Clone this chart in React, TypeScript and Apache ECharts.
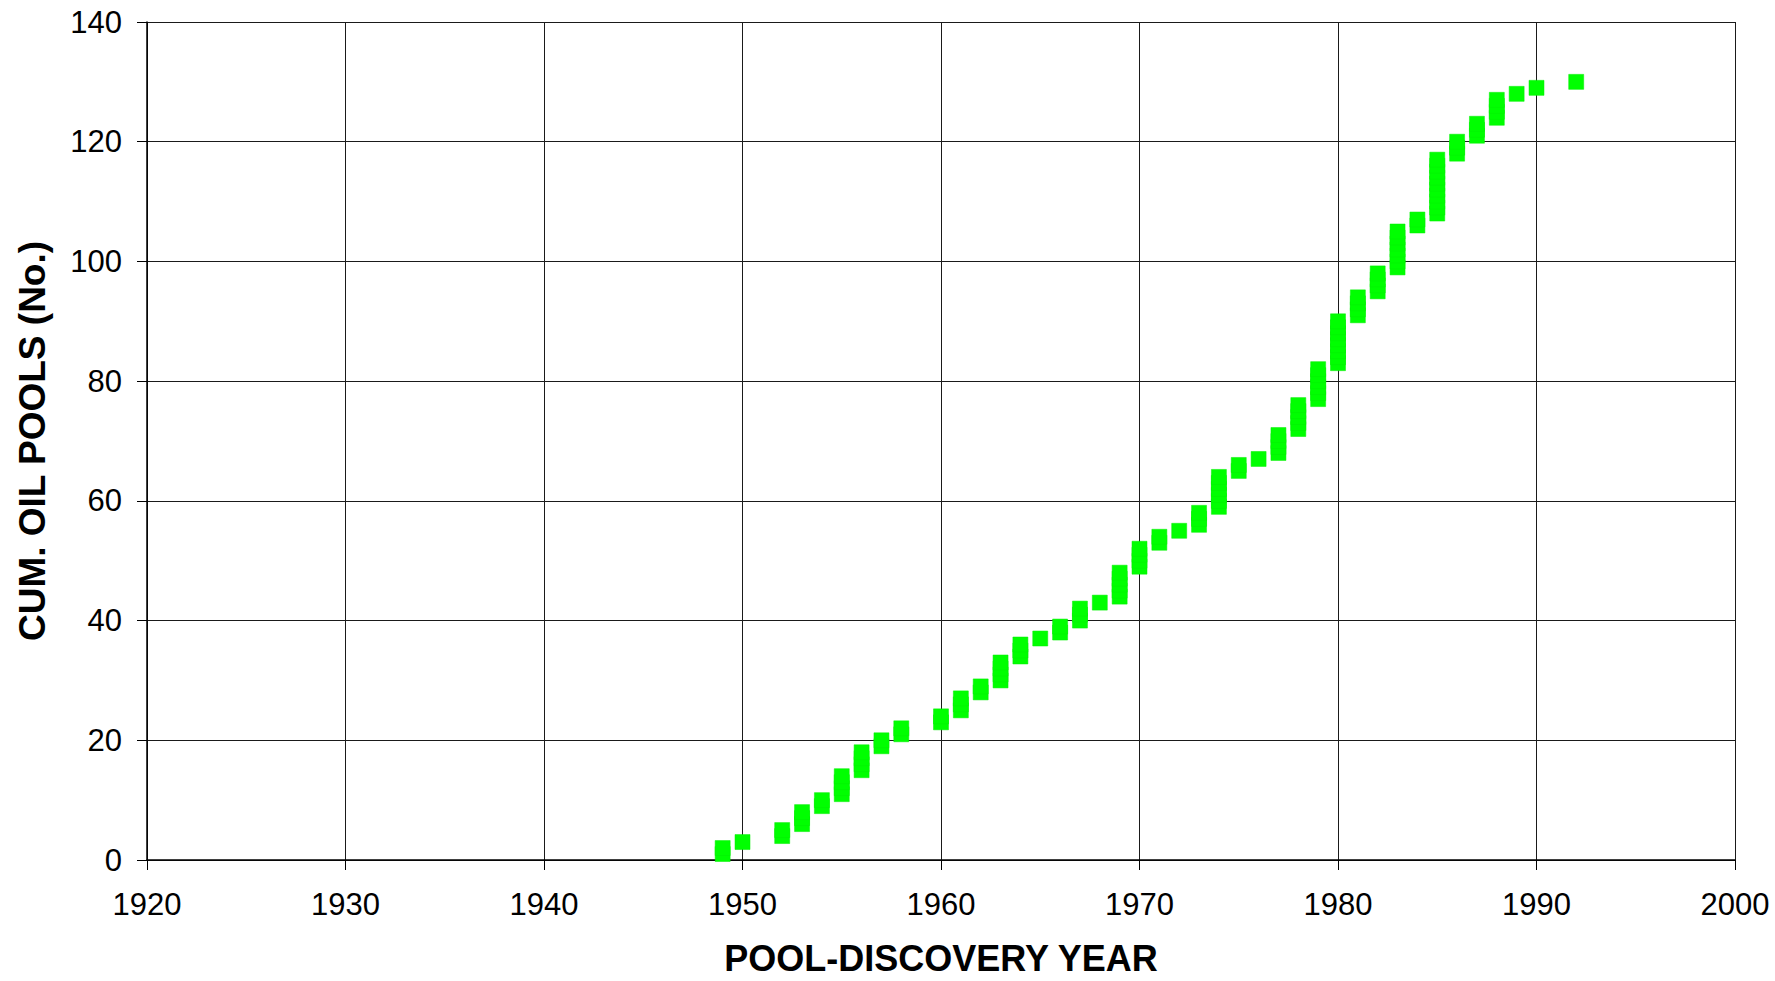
import React, { useEffect, useRef } from "react";
import * as echarts from "echarts";

// Discovery years (one stack of markers per year)
const discoveryYears = [
  1949, 1950, 1952, 1953, 1954, 1955, 1956, 1957, 1958, 1960,
  1961, 1962, 1963, 1964, 1965, 1966, 1967, 1968, 1969, 1970,
  1971, 1972, 1973, 1974, 1975, 1976, 1977, 1978, 1979, 1980,
  1981, 1982, 1983, 1984, 1985, 1986, 1987, 1988, 1989, 1990,
  1992,
];

// Cumulative number of oil pools at the end of each discovery year
const cumulativeTotals = [
  2, 3, 5, 8, 10, 14, 18, 20, 22, 24,
  27, 29, 33, 36, 37, 39, 42, 43, 48, 52,
  54, 55, 58, 64, 66, 67, 71, 76, 82, 90,
  94, 98, 105, 107, 117, 120, 123, 127, 128, 129,
  130,
];

const xTickYears = [1920, 1930, 1940, 1950, 1960, 1970, 1980, 1990, 2000];
const yTickValues = [0, 20, 40, 60, 80, 100, 120, 140];

const xTitle = "POOL-DISCOVERY YEAR";
const yTitle = "CUM. OIL POOLS (No.)";

const FONT = "'Liberation Sans', Arial, Helvetica, sans-serif";

export default function App() {
  const ref = useRef<HTMLDivElement>(null);

  useEffect(() => {
    if (!ref.current) return;
    const chart = echarts.init(ref.current, undefined, { renderer: "svg" });

    // one point per pool: each year's stack runs from previous total + 1 to this year's total
    const points: [number, number][] = [];
    let prev = 0;
    discoveryYears.forEach((yr, i) => {
      for (let n = prev + 1; n <= cumulativeTotals[i]; n++) points.push([yr, n]);
      prev = cumulativeTotals[i];
    });

    const xMin = xTickYears[0];
    const xMax = xTickYears[xTickYears.length - 1];
    const yMin = yTickValues[0];
    const yMax = yTickValues[yTickValues.length - 1];

    chart.setOption({
      animation: false,
      backgroundColor: "#ffffff",
      grid: {
        left: 147,
        right: 40,
        top: 22,
        bottom: 121,
        containLabel: false,
        outerBoundsMode: "none",
      },
      xAxis: {
        type: "value",
        min: xMin,
        max: xMax,
        interval: xTickYears[1] - xTickYears[0],
        name: xTitle,
        nameLocation: "middle",
        nameGap: 80,
        nameTextStyle: { fontFamily: FONT, fontSize: 36, fontWeight: "bold", color: "#000" },
        axisLine: { show: true, onZero: false, lineStyle: { color: "#000", width: 1.5 } },
        axisTick: { show: true, inside: false, length: 10, lineStyle: { color: "#000", width: 1 } },
        axisLabel: {
          fontFamily: FONT,
          fontSize: 31,
          color: "#000",
          margin: 29,
          formatter: (v: number) => String(v),
        },
        splitLine: { show: true, lineStyle: { color: "#1a1a1a", width: 1 } },
      },
      yAxis: {
        type: "value",
        min: yMin,
        max: yMax,
        interval: yTickValues[1] - yTickValues[0],
        name: yTitle,
        nameLocation: "middle",
        nameGap: 96,
        nameTextStyle: { fontFamily: FONT, fontSize: 37, fontWeight: "bold", color: "#000" },
        axisLine: { show: true, onZero: false, lineStyle: { color: "#000", width: 1.5 } },
        axisTick: { show: true, inside: false, length: 10, lineStyle: { color: "#000", width: 1 } },
        axisLabel: {
          fontFamily: FONT,
          fontSize: 31,
          color: "#000",
          margin: 25,
          formatter: (v: number) => String(v),
        },
        splitLine: { show: true, lineStyle: { color: "#1a1a1a", width: 1 } },
      },
      series: [
        {
          type: "scatter",
          data: points,
          symbol: "rect",
          symbolSize: 15,
          itemStyle: { color: "#00ff00", borderColor: "#00ee00", borderWidth: 0.5, opacity: 1 },
          emphasis: { disabled: true },
        },
      ],
    });

    return () => chart.dispose();
  }, []);

  return (
    <div
      ref={ref}
      style={{ position: "absolute", left: 0, top: 0, width: 1775, height: 981, background: "#fff" }}
    />
  );
}
